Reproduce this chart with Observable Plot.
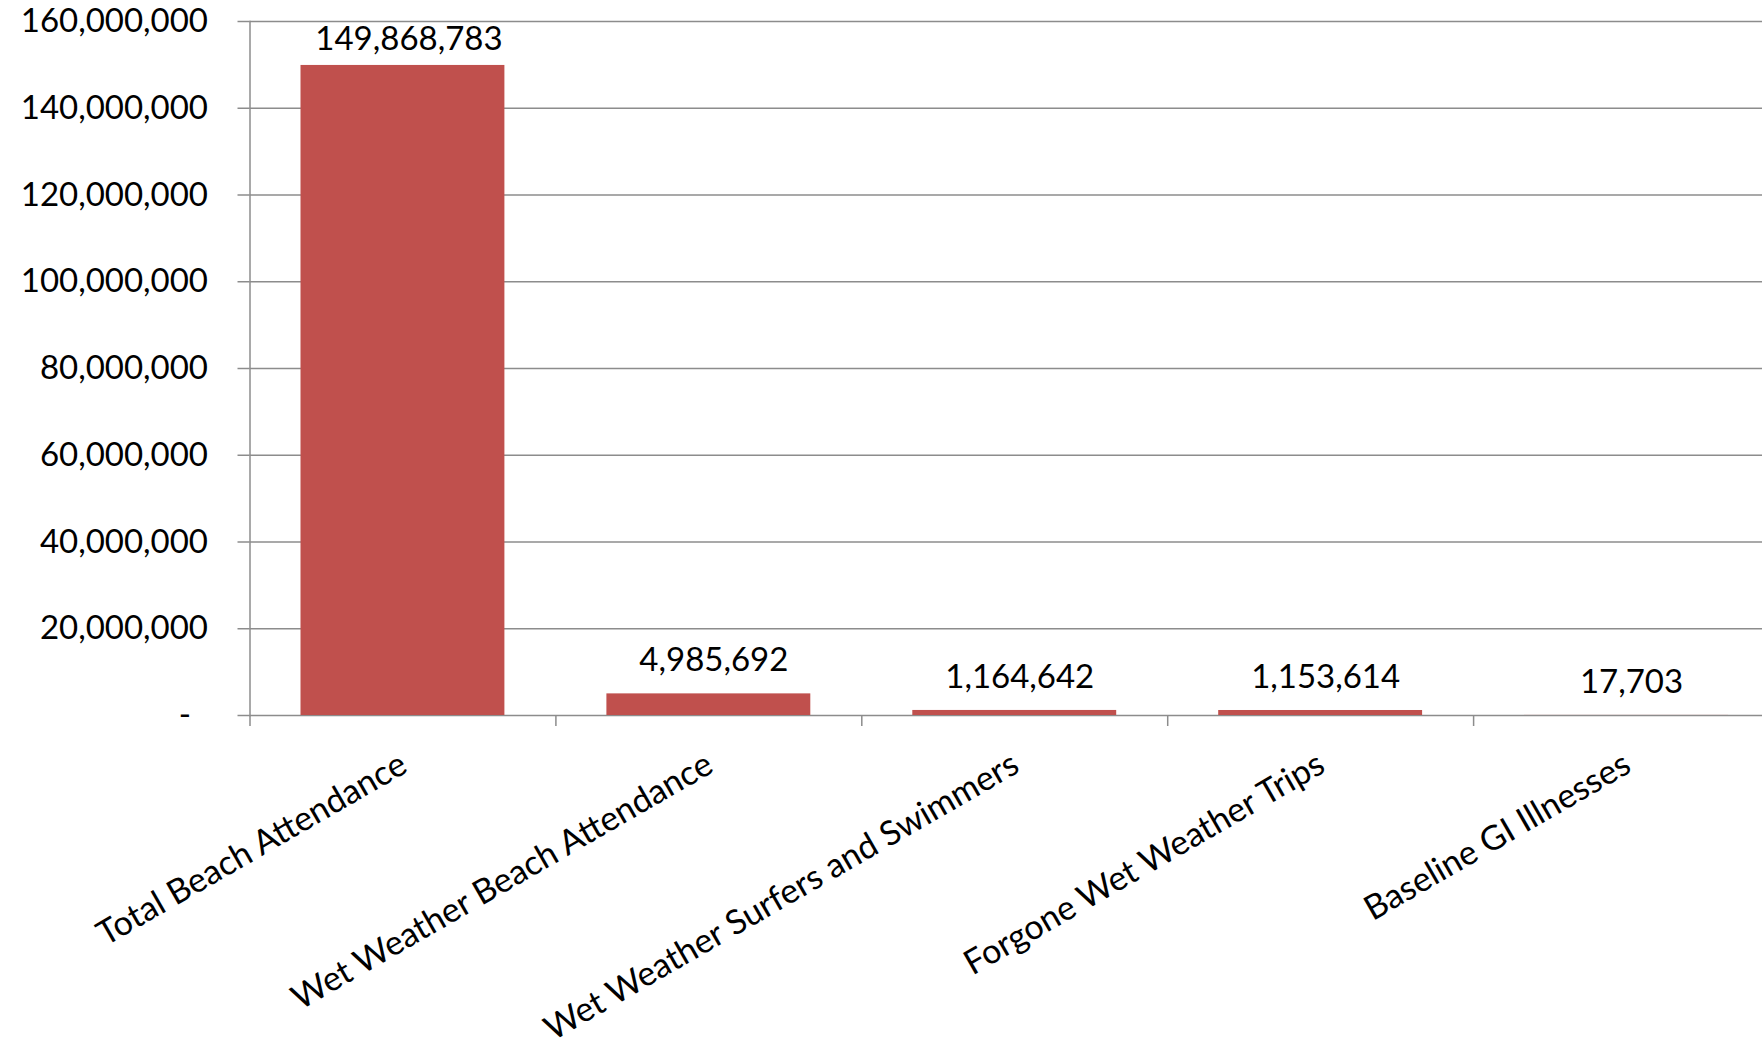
<!DOCTYPE html>
<html>
<head>
<meta charset="utf-8">
<script src="https://cdn.jsdelivr.net/npm/d3@7"></script>
<script src="https://cdn.jsdelivr.net/npm/@observablehq/plot@0.6"></script>
<style>
  html, body { margin: 0; padding: 0; background: #fff; }
  #chart { width: 1762px; height: 1046px; overflow: hidden; }
  svg { font-family: Lato, sans-serif; color: #000; }
</style>
</head>
<body>
<div id="chart"></div>
<script>
const categories = [
  "Total Beach Attendance",
  "Wet Weather Beach Attendance",
  "Wet Weather Surfers and Swimmers",
  "Forgone Wet Weather Trips",
  "Baseline GI Illnesses"
];
const values = [149868783, 4985692, 1164642, 1153614, 17703];
const yTicks = [0, 20000000, 40000000, 60000000, 80000000, 100000000, 120000000, 140000000, 160000000];

const data = categories.map((c, i) => ({category: c, value: values[i]}));

const W = 1762, H = 1046;
const left = 249.5, bw = 305.9;
const fmt = d3.format(",");
const gray = "#8c8c8c";
const fs = 33;

const chart = Plot.plot({
  width: W,
  height: H,
  marginLeft: left,
  marginRight: 0,
  marginTop: 21,
  marginBottom: 331,
  style: {fontFamily: "Lato, sans-serif", fontSize: fs + "px", color: "#000", background: "#fff"},
  x: {type: "band", domain: categories, range: [left, left + bw * categories.length], padding: 0, round: false, axis: null},
  y: {domain: [0, 160000000], axis: null},
  marks: [
    Plot.gridY(yTicks, {stroke: gray, strokeOpacity: 1, strokeWidth: 1.5}),
    Plot.axisY({
      ticks: yTicks,
      tickFormat: d => d === 0 ? "-\u00a0\u00a0" : fmt(d),
      tickSize: 12,
      tickPadding: 30,
      stroke: gray,
      strokeWidth: 1.5,
      fontSize: fs,
      label: null
    }),
    Plot.frame({anchor: "left", stroke: gray, strokeWidth: 1.5}),
    Plot.ruleX(categories, {x: d => d, y1: 0, y2: 0, dx: -bw / 2, insetBottom: -11, stroke: gray, strokeWidth: 1.5}),
    Plot.barY(data, {x: "category", y: "value", fill: "#C0504D", insetLeft: 51, insetRight: 51}),
    Plot.text(data.slice(0, 1), {x: "category", y: "value", text: d => fmt(d.value), dx: 6, dy: -26, fontSize: fs, fill: "#000"}),
    Plot.text(data.slice(1), {x: "category", y: "value", text: d => fmt(d.value), dx: 5, dy: -33, fontSize: fs, fill: "#000"}),
    Plot.text(categories, {x: d => d, frameAnchor: "bottom", text: d => d, rotate: -30, textAnchor: "end", lineAnchor: "middle", dx: 1, dy: 46, fontSize: 34, fill: "#000"})
  ]
});
document.getElementById("chart").appendChild(chart);
</script>
</body>
</html>
